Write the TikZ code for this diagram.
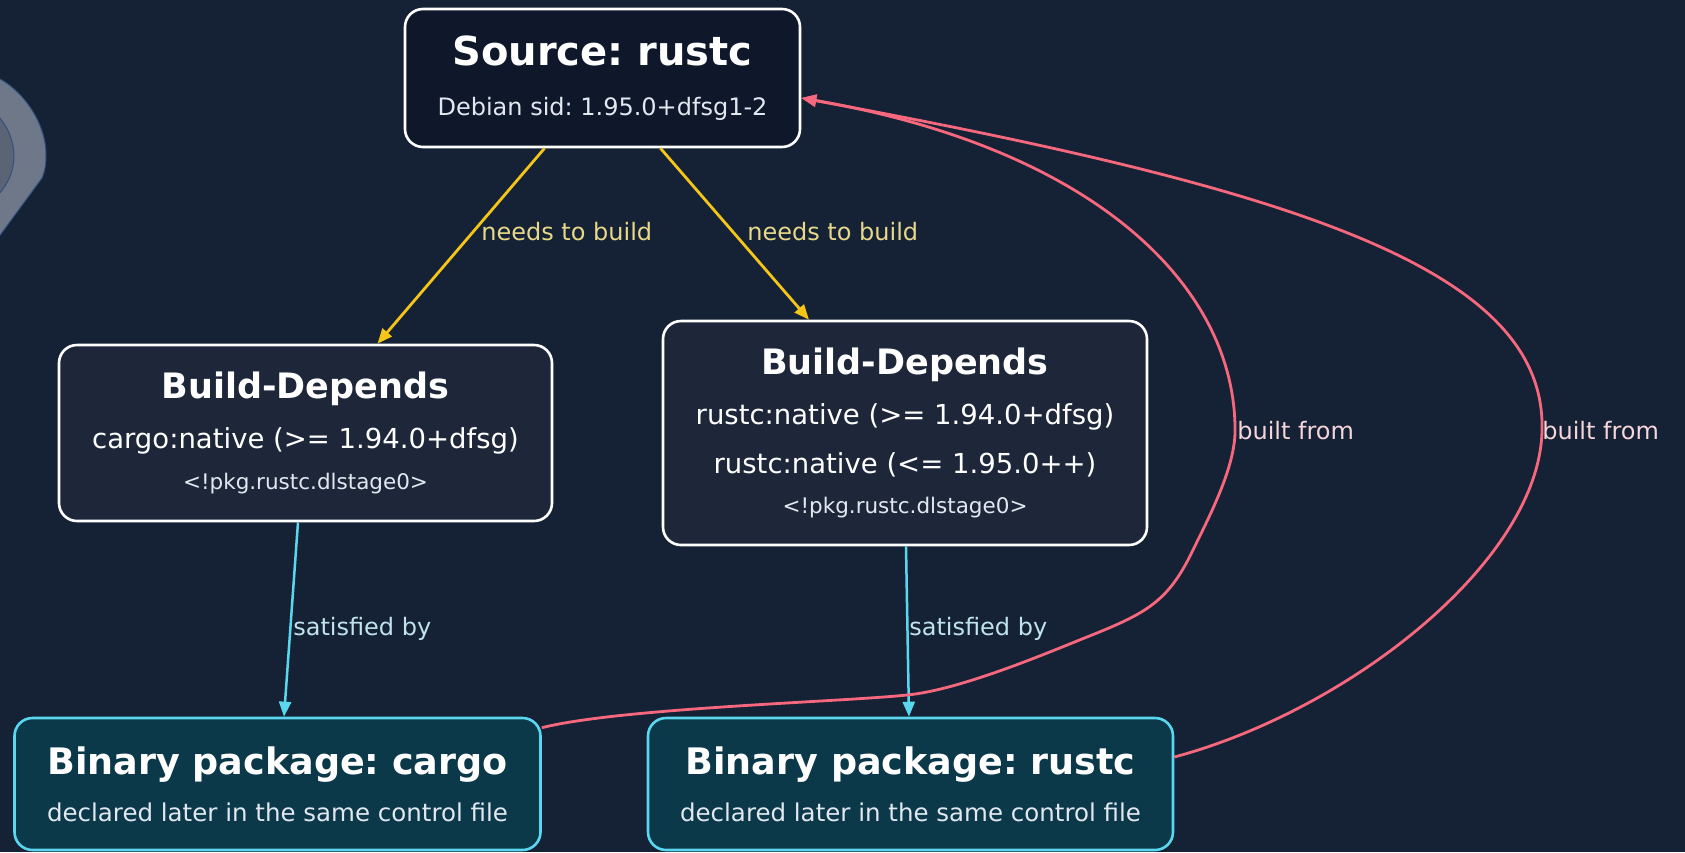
\documentclass[tikz,border=0pt]{standalone}
\usepackage{fontspec}
\setmainfont{DejaVu Sans}
\usepackage{tikz}
\usetikzlibrary{calc}
\usetikzlibrary{positioning}
\usetikzlibrary{arrows.meta}
\tikzset{every picture/.style={semithick, >={Triangle[length=15pt,width=12pt]}}}
\definecolor{bgNavy}{RGB}{21,33,52}
\definecolor{srcFill}{RGB}{15,23,42}
\definecolor{depFill}{RGB}{30,39,58}
\definecolor{binFill}{RGB}{12,57,74}
\definecolor{binEdge}{HTML}{5AD7EE}
\definecolor{needsGold}{HTML}{F5C518}
\definecolor{needsText}{HTML}{E8D98A}
\definecolor{satText}{HTML}{BFE4EC}
\definecolor{builtRose}{HTML}{F7687E}
\definecolor{builtText}{HTML}{F6D6DB}
\definecolor{subText}{HTML}{E2E8F0}
\definecolor{decoOuter}{RGB}{110,120,136}
\definecolor{decoInner}{RGB}{90,100,117}
\definecolor{decoLine}{RGB}{50,80,130}
\frenchspacing

\begin{document}
\begin{tikzpicture}[x=1pt, y=-1pt,
		box/.style={draw, rounded corners=18pt, line width=2.6pt, inner sep=0pt, align=center, text=subText, font=\fontsize{24}{50}\selectfont},
		srcbox/.style={box, fill=srcFill, draw=white, minimum width=395pt, minimum height=138pt},
		depbox/.style={box, fill=depFill, draw=white, minimum width=493pt},
		binbox/.style={box, fill=binFill, draw=binEdge, minimum width=526pt, minimum height=132pt},
		needs/.style={->, draw=needsGold, line width=2.8pt},
		satisfied/.style={->, draw=binEdge, line width=2.5pt},
		built/.style={->, draw=builtRose, line width=2.8pt},
		lbl/.style={anchor=west, inner sep=0pt, font=\fontsize{24}{30}\selectfont}]
		\def\srcT{\fontsize{40}{50}\selectfont\bfseries\color{white}}
		\def\depT{\fontsize{35}{50}\selectfont\bfseries\color{white}}
		\def\depL{\fontsize{27.5}{50}\selectfont\color{white}}
		\def\depS{\fontsize{21.5}{50}\selectfont}
		\def\binT{\fontsize{36.5}{50}\selectfont\bfseries\color{white}}
		\def\binS{\fontsize{24.5}{50}\selectfont}

	\fill[bgNavy] (0,0) rectangle (1685,852);
	\useasboundingbox (0,0) rectangle (1685,852);

	\filldraw[fill=decoOuter, draw=decoLine, line width=1pt] (-2,78) .. controls (22,90) and (46,122) .. (46,155) .. controls (46,164) and (45,171) .. (42,178) -- (-2,238) -- cycle;
	\filldraw[fill=decoInner, draw=decoLine, line width=1pt] (-2,116) .. controls (9,128) and (14,143) .. (14,156) .. controls (14,170) and (9,183) .. (-2,195) -- cycle;

	\node[srcbox] (src) at (602.5,78) {\srcT Source: rustc\\ Debian sid: 1.95.0+dfsg1-2};

	\node[depbox, minimum height=176pt] (bd1) at (305.5,433) {\depT Build-Depends\\ \depL cargo:native (>= 1.94.0+dfsg)\\[-9pt] \depS <!pkg.rustc.dlstage0>};
	\node[depbox, minimum width=484pt, minimum height=224pt] (bd2) at (905,433) {\depT Build-Depends\\ \depL rustc:native (>= 1.94.0+dfsg)\\[-1pt] \depL rustc:native (<= 1.95.0++)\\[-10pt] \depS <!pkg.rustc.dlstage0>};

	\node[binbox] (bin1) at (277.5,784) {\binT Binary package: cargo\\[-3pt] \binS declared later in the same control file};
	\node[binbox, minimum width=525pt] (bin2) at (910.5,784) {\binT Binary package: rustc\\[-3pt] \binS declared later in the same control file};

	\coordinate (c1) at ($(bin1.north east)+(0,11)$);
	\coordinate (c2) at ($(bin2.east)+(0,-27)$);
	\coordinate (top) at ($(src.east)+(0,20)$);

	\draw[needs] ($(src.south)+(-58,0)$) -- ($(bd1.north)+(72,0)$);
	\draw[needs] ($(src.south)+(58,0)$) -- ($(bd2.north)+(-96,0)$);
	\draw[satisfied] ($(bd1.south)+(-7.5,0)$) -- ($(bin1.north)+(6.5,0)$);
	\draw[satisfied] ($(bd2.south)+(1,0)$) -- ($(bin2.north)+(-1.5,0)$);

	\draw[built] (c1) .. controls (620,708) and (840,702) .. (907,695) .. controls (960,690) and (1047,653) .. (1087,637) .. controls (1147,613) and (1168,602) .. (1193,550) .. controls (1208,519) and (1234,470) .. (1235,433) .. controls (1237,290) and (1100,150) .. (top);
	\draw[built] (c2) .. controls (1350,710) and (1540,560) .. (1542,430) .. controls (1546,270) and (1300,190) .. (top);

	\node[lbl, text=needsText] (n1) at (481,232) {needs to build};
	\node[lbl, text=needsText] (n2) at (747,232) {needs to build};
	\node[lbl, text=satText] (s1) at (293,629) {satisfied by};
	\node[lbl, text=satText] (s2) at (909,629) {satisfied by};
	\node[lbl, text=builtText] (b1) at (1237,431) {built from};
	\node[lbl, text=builtText] (b2) at (1542,431) {built from};

\end{tikzpicture}
\end{document}
